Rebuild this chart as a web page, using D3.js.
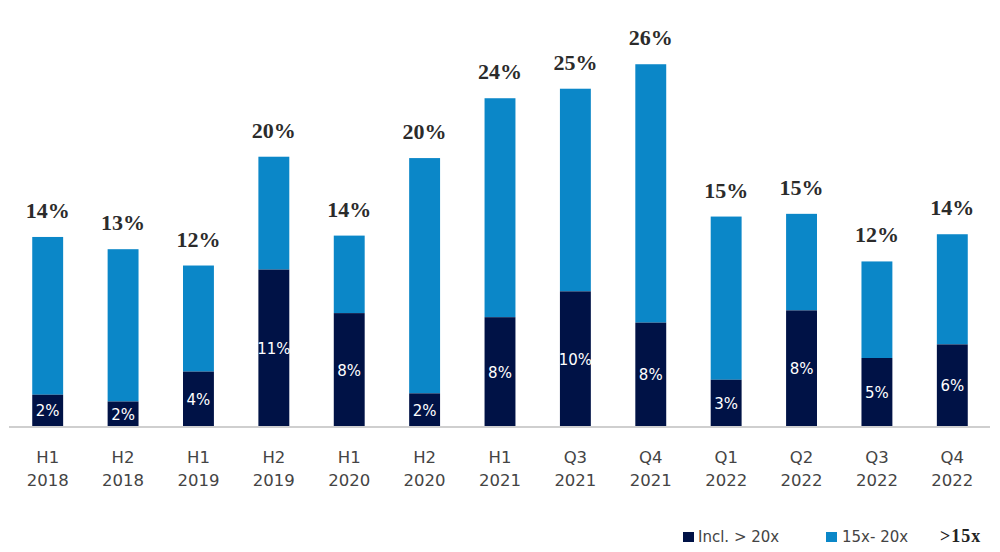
<!DOCTYPE html>
<html>
<head>
<meta charset="utf-8">
<script src="https://cdn.jsdelivr.net/npm/d3@7"></script>
<style>
  html, body { margin: 0; padding: 0; background: #fff; }
  svg { display: block; }
</style>
</head>
<body>
<svg id="chart" width="1000" height="552"></svg>
<script>
// ---- Data ----
const periods = ["H1", "H2", "H1", "H2", "H1", "H2", "H1", "Q3", "Q4", "Q1", "Q2", "Q3", "Q4"];
const years = ["2018", "2018", "2019", "2019", "2020", "2020", "2021", "2021", "2021", "2022", "2022", "2022", "2022"];
const incl20x = [2.3, 1.8, 4.0, 11.5, 8.3, 2.4, 8.0, 9.9, 7.6, 3.4, 8.5, 5.0, 6.0];
const totals = [13.9, 13.0, 11.8, 19.8, 14.0, 19.7, 24.1, 24.8, 26.6, 15.4, 15.6, 12.1, 14.1];
const inclLabels = ["2%", "2%", "4%", "11%", "8%", "2%", "8%", "10%", "8%", "3%", "8%", "5%", "6%"];
const totalLabels = ["14%", "13%", "12%", "20%", "14%", "20%", "24%", "25%", "26%", "15%", "15%", "12%", "14%"];
const legendLabels = ["Incl. > 20x", "15x- 20x", ">15x"];

const colDark = "#001246";
const colLight = "#0b87c8";
const sans = "'DejaVu Sans', 'Open Sans', sans-serif";
const serif = "'Liberation Serif', 'DejaVu Serif', serif";

const svg = d3.select("#chart");
const idx = d3.range(periods.length);

const x = d3.scaleBand().domain(idx).range([10, 990]).paddingInner(0.59).paddingOuter(0.295);
const y = d3.scaleLinear().domain([0, 30]).range([426, 18]);

// axis line
svg.append("line")
  .attr("x1", 9).attr("x2", 990)
  .attr("y1", y(0) + 1).attr("y2", y(0) + 1)
  .attr("stroke", "#cfcfcf").attr("stroke-width", 2);

// light segments (15x-20x)
svg.selectAll("rect.light").data(idx).enter().append("rect")
  .attr("class", "light")
  .attr("x", i => x(i)).attr("width", x.bandwidth())
  .attr("y", i => y(totals[i]))
  .attr("height", i => y(incl20x[i]) - y(totals[i]))
  .attr("fill", colLight);

// dark segments (incl > 20x)
svg.selectAll("rect.dark").data(idx).enter().append("rect")
  .attr("class", "dark")
  .attr("x", i => x(i)).attr("width", x.bandwidth())
  .attr("y", i => y(incl20x[i]))
  .attr("height", i => y(0) - y(incl20x[i]))
  .attr("fill", colDark);

// inner labels
svg.selectAll("text.inner").data(idx).enter().append("text")
  .attr("class", "inner")
  .attr("x", i => x(i) + x.bandwidth() / 2)
  .attr("y", i => (y(incl20x[i]) + y(0)) / 2 + 6)
  .attr("text-anchor", "middle")
  .attr("font-family", sans).attr("font-size", 15)
  .attr("fill", "#fff")
  .text(i => inclLabels[i]);

// total labels
svg.selectAll("text.total").data(idx).enter().append("text")
  .attr("class", "total")
  .attr("x", i => x(i) + x.bandwidth() / 2)
  .attr("y", i => y(totals[i]) - 19)
  .attr("text-anchor", "middle")
  .attr("font-family", serif).attr("font-weight", "bold").attr("font-size", 22)
  .attr("fill", "#2b2b2b")
  .text(i => totalLabels[i]);

// category labels
const cat = svg.selectAll("text.cat").data(idx).enter().append("text")
  .attr("class", "cat")
  .attr("text-anchor", "middle")
  .attr("font-family", sans).attr("font-size", 16.5)
  .attr("fill", "#444");
cat.append("tspan").attr("x", i => x(i) + x.bandwidth() / 2).attr("y", 463).text(i => periods[i]);
cat.append("tspan").attr("x", i => x(i) + x.bandwidth() / 2).attr("y", 486).text(i => years[i]);

// legend
const lg = svg.append("g");
lg.append("rect").attr("x", 683).attr("y", 532).attr("width", 11).attr("height", 10).attr("fill", colDark);
lg.append("text").attr("x", 698).attr("y", 542).attr("font-family", sans).attr("font-size", 15).attr("fill", "#444").text(legendLabels[0]);
lg.append("rect").attr("x", 826).attr("y", 532).attr("width", 11).attr("height", 10).attr("fill", colLight);
lg.append("text").attr("x", 842).attr("y", 542).attr("font-family", sans).attr("font-size", 15).attr("fill", "#444").text(legendLabels[1]);
lg.append("text").attr("x", 940).attr("y", 542).attr("font-family", serif).attr("font-weight", "bold").attr("font-size", 18).attr("letter-spacing", 1).attr("fill", "#222").text(legendLabels[2]);
</script>
</body>
</html>
